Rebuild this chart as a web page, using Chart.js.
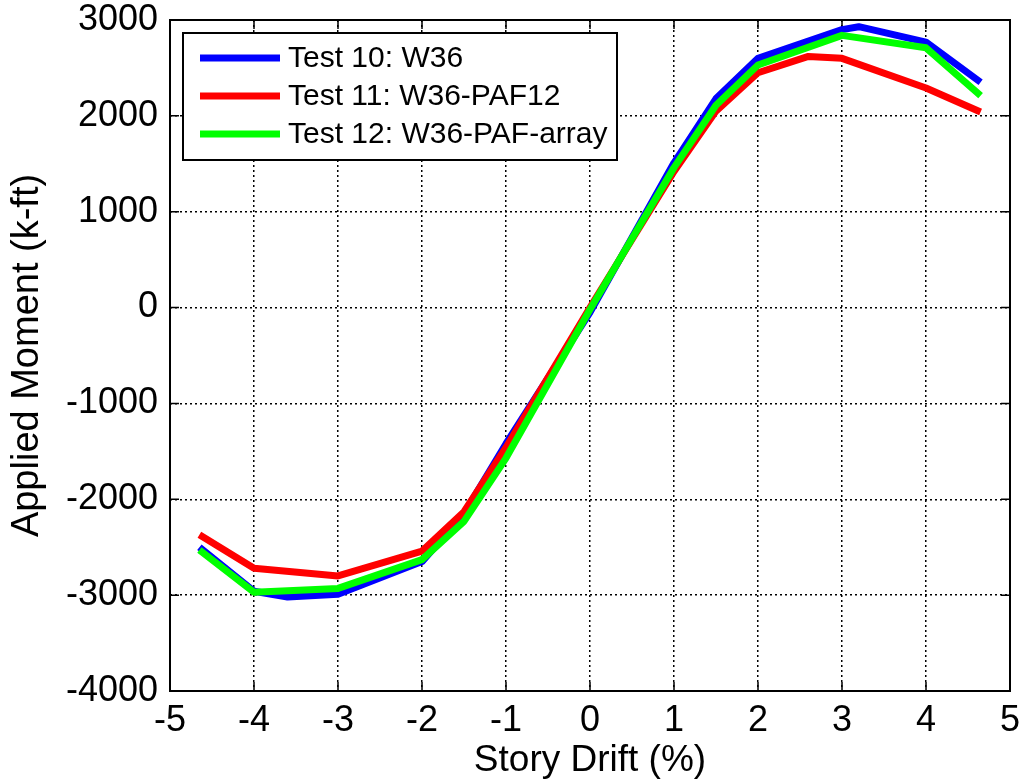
<!DOCTYPE html>
<html lang="en">
<head>
  <meta charset="UTF-8" />
  <title>Applied Moment vs Story Drift</title>
  <script src="https://cdn.jsdelivr.net/npm/chart.js"></script>
  <style>
    body { margin: 0; background: #fff; }
    .chart-box { width: 1023px; height: 784px; }
  </style>
</head>
<body>

<div class="chart-box">
  <canvas id="momentChart"></canvas>
</div>

<script>
  // Test 10: W36
  const driftW36  = [-4.65, -4, -3.6, -3, -2, -1.5, -1, 0, 1, 1.5, 2, 3, 3.2, 4, 4.65];
  const momentW36 = [-2500, -2960, -3020, -2990, -2650, -2150, -1420, -50, 1510, 2180, 2600, 2900, 2930, 2770, 2350];

  // Test 11: W36-PAF12
  const driftPAF12  = [-4.65, -4, -3, -2, -1.5, -1, 0, 1, 1.5, 2, 2.6, 3, 4, 4.65];
  const momentPAF12 = [-2370, -2720, -2800, -2540, -2130, -1460, 0, 1420, 2050, 2450, 2620, 2600, 2290, 2040];

  // Test 12: W36-PAF-array
  const driftArray  = [-4.65, -4, -3, -2, -1.5, -1, 0, 1, 1.5, 2, 3, 4, 4.65];
  const momentArray = [-2530, -2970, -2930, -2630, -2230, -1570, -20, 1460, 2110, 2530, 2840, 2710, 2210];

  const xTicks = [-5, -4, -3, -2, -1, 0, 1, 2, 3, 4, 5];
  const yTicks = [-4000, -3000, -2000, -1000, 0, 1000, 2000, 3000];

  const FONT = '"Liberation Sans", Arial, sans-serif';

  function pts(xs, ys) {
    return xs.map((x, i) => ({ x: x, y: ys[i] }));
  }

  // box around the plot plus inward tick marks
  const frame = {
    id: 'frame',
    beforeDatasetsDraw(chart) {
      const { ctx, chartArea: a, scales } = chart;
      ctx.save();
      ctx.strokeStyle = '#000';
      ctx.lineWidth = 1.5;
      ctx.beginPath();
      xTicks.forEach(v => {
        const px = scales.x.getPixelForValue(v);
        ctx.moveTo(px, a.bottom); ctx.lineTo(px, a.bottom - 9);
        ctx.moveTo(px, a.top); ctx.lineTo(px, a.top + 9);
      });
      yTicks.forEach(v => {
        const py = scales.y.getPixelForValue(v);
        ctx.moveTo(a.left, py); ctx.lineTo(a.left + 9, py);
        ctx.moveTo(a.right, py); ctx.lineTo(a.right - 9, py);
      });
      ctx.stroke();
      ctx.lineWidth = 2;
      ctx.strokeRect(a.left, a.top, a.right - a.left, a.bottom - a.top);
      ctx.restore();
    }
  };

  // legend box in the upper left corner of the plot
  const boxLegend = {
    id: 'boxLegend',
    afterDatasetsDraw(chart) {
      const ctx = chart.ctx;
      const a = chart.chartArea;
      const x0 = a.left + 13, y0 = a.top + 13, w = 434, h = 127;
      ctx.save();
      ctx.fillStyle = '#fff';
      ctx.fillRect(x0, y0, w, h);
      ctx.strokeStyle = '#000';
      ctx.lineWidth = 2;
      ctx.strokeRect(x0, y0, w, h);
      ctx.font = '30px ' + FONT;
      ctx.textBaseline = 'middle';
      chart.data.datasets.forEach((ds, i) => {
        const cy = y0 + 25 + i * 38;
        ctx.strokeStyle = ds.borderColor;
        ctx.lineWidth = 7;
        ctx.beginPath();
        ctx.moveTo(x0 + 17, cy);
        ctx.lineTo(x0 + 97, cy);
        ctx.stroke();
        ctx.fillStyle = '#000';
        ctx.fillText(ds.label, x0 + 105, cy + 1);
      });
      ctx.restore();
    }
  };

  new Chart(document.getElementById('momentChart'), {
    type: 'line',
    data: {
      datasets: [
        { label: 'Test 10: W36', data: pts(driftW36, momentW36), borderColor: '#0000ff', order: 2 },
        { label: 'Test 11: W36-PAF12', data: pts(driftPAF12, momentPAF12), borderColor: '#ff0000', order: 1 },
        { label: 'Test 12: W36-PAF-array', data: pts(driftArray, momentArray), borderColor: '#00ff00', order: 0 }
      ]
    },
    options: {
      responsive: true,
      maintainAspectRatio: false,
      animation: false,
      layout: { padding: { top: 20, right: 13 } },
      elements: {
        line: { borderWidth: 7, tension: 0, borderJoinStyle: 'round', borderCapStyle: 'butt' },
        point: { radius: 0 }
      },
      plugins: {
        legend: { display: false },
        tooltip: { enabled: false }
      },
      scales: {
        x: {
          type: 'linear',
          min: -5, max: 5,
          afterFit(s) { s.height = 93; s.paddingLeft = 0; s.paddingRight = 0; },
          afterBuildTicks(s) { s.ticks = xTicks.map(v => ({ value: v })); },
          ticks: { color: '#000', padding: 8, font: { family: FONT, size: 36 }, maxRotation: 0, callback: v => String(v) },
          grid: { color: '#000', lineWidth: 1.5, drawTicks: false },
          border: { display: false, dash: [2, 3] },
          title: { display: true, text: 'Story Drift (%)', color: '#000', font: { family: FONT, size: 37 }, padding: { top: 0, bottom: 1 } }
        },
        y: {
          type: 'linear',
          min: -4000, max: 3000,
          afterFit(s) { s.width = 170; s.paddingTop = 0; s.paddingBottom = 0; },
          afterBuildTicks(s) { s.ticks = yTicks.map(v => ({ value: v })); },
          ticks: { color: '#000', padding: 12, font: { family: FONT, size: 36 }, callback: v => String(v) },
          grid: { color: '#000', lineWidth: 1.5, drawTicks: false },
          border: { display: false, dash: [2, 3] },
          title: { display: true, text: 'Applied Moment (k-ft)', color: '#000', font: { family: FONT, size: 38 }, padding: { top: 5, bottom: 0 } }
        }
      }
    },
    plugins: [frame, boxLegend]
  });
</script>

</body>
</html>
